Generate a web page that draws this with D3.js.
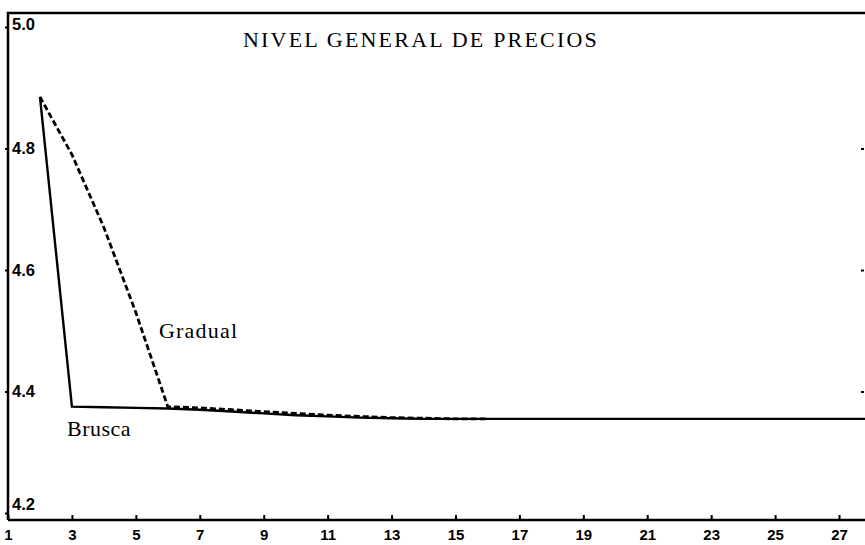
<!DOCTYPE html>
<html>
<head>
<meta charset="utf-8">
<script src="https://cdn.jsdelivr.net/npm/d3@7"></script>
<style>
  body { margin: 0; background: #fff; }
  svg { display: block; }
</style>
</head>
<body>
<div id="viz"></div>
<script>
// periods and the two price paths (log level)
var periods = d3.range(1, 29),
    brusca = [null, 4.885, 4.375, 4.374, 4.373, 4.372, 4.370, 4.367, 4.364, 4.361, 4.359, 4.357, 4.356,
              4.355, 4.355, 4.355, 4.355, 4.355, 4.355, 4.355, 4.355, 4.355, 4.355, 4.355, 4.355, 4.355, 4.355, 4.355],
    gradual = [null, 4.885, 4.79, 4.67, 4.53, 4.375, 4.373, 4.370, 4.367, 4.364, 4.361, 4.359, 4.357,
               4.356, 4.355, 4.355],
    xTicks = d3.range(1, 28, 2),
    yTicks = [4.2, 4.4, 4.6, 4.8, 5.0],
    rightTicks = [4.4, 4.6, 4.8];

var width = 865,
    height = 545,
    frameTop = 13,
    frameBottom = 520,
    frameLeft = 8;

var xScale = d3.scaleLinear()
    .domain([1, 28])
    .range([frameLeft, 871])

var yScale = d3.scaleLinear()
    .domain([4.2, 5.0])
    .range([513, 27])

var svg = d3.select('#viz').append('svg')
    .attr('width', width)
    .attr('height', height)

// frame: top and left lines (right side is cut off)
svg.append('path')
    .attr('d', 'M' + frameLeft + ',' + frameBottom + 'V' + frameTop + 'H' + width)
    .attr('fill', 'none')
    .attr('stroke', '#000')
    .attr('stroke-width', 2.5)

// bottom axis, ticks pointing up
var xAxis = d3.axisBottom(xScale)
    .tickValues(xTicks)
    .tickSize(-5)
    .tickSizeOuter(0)
    .tickPadding(9)
    .tickFormat(d3.format('d'))

var xGuide = svg.append('g')
    .attr('transform', 'translate(0,' + frameBottom + ')')
    .call(xAxis)

xGuide.select('.domain')
    .attr('d', 'M' + frameLeft + ',0H' + width)
    .attr('stroke-width', 2.5)

xGuide.selectAll('.tick line').attr('stroke-width', 2)
xGuide.selectAll('text')
    .attr('font-family', 'Liberation Sans, Arial, sans-serif')
    .attr('font-weight', 'bold')
    .attr('font-size', 15)
    .attr('fill', '#000')

// left axis: labels sit inside the frame
var yAxis = d3.axisLeft(yScale)
    .tickValues(yTicks)
    .tickSize(3)
    .tickSizeOuter(0)
    .tickFormat(d3.format('.1f'))

var yGuide = svg.append('g')
    .attr('transform', 'translate(' + frameLeft + ',0)')
    .call(yAxis)

yGuide.select('.domain').remove()
yGuide.selectAll('.tick line').attr('stroke-width', 2)
yGuide.selectAll('text')
    .attr('x', 4)
    .attr('text-anchor', 'start')
    .attr('font-family', 'Liberation Sans, Arial, sans-serif')
    .attr('font-weight', 'bold')
    .attr('font-size', 16.5)
    .attr('fill', '#000')
    .attr('dy', function(d) {
        return d === 4.2 ? '-0.2em' : (d === 5.0 ? '0.15em' : '0.32em')
    })

// small marks on the right edge
var rightGuide = svg.append('g')
    .attr('transform', 'translate(864,0)')
    .call(d3.axisRight(yScale).tickValues(rightTicks).tickSize(-3).tickFormat(''))

rightGuide.select('.domain').remove()
rightGuide.selectAll('.tick line').attr('stroke-width', 2)

// lines
var line = d3.line()
    .defined(function(d) { return d != null })
    .x(function(d, i) { return xScale(periods[i]) })
    .y(function(d) { return yScale(d) })

svg.append('path')
    .datum(brusca)
    .attr('d', line)
    .attr('fill', 'none')
    .attr('stroke', '#000')
    .attr('stroke-width', 2.4)

svg.append('path')
    .datum(gradual)
    .attr('d', line)
    .attr('fill', 'none')
    .attr('stroke', '#000')
    .attr('stroke-width', 2.8)
    .attr('stroke-dasharray', '6,3')

// title and labels
svg.append('text')
    .attr('x', 421)
    .attr('y', 47)
    .attr('text-anchor', 'middle')
    .attr('font-family', 'Liberation Serif, Times New Roman, serif')
    .attr('font-size', 22)
    .attr('letter-spacing', 2.2)
    .text('NIVEL GENERAL DE PRECIOS')

svg.append('text')
    .attr('x', 159)
    .attr('y', 338)
    .attr('font-family', 'Liberation Serif, Times New Roman, serif')
    .attr('font-size', 22)
    .attr('letter-spacing', 1.2)
    .text('Gradual')

svg.append('text')
    .attr('x', 67)
    .attr('y', 436)
    .attr('font-family', 'Liberation Serif, Times New Roman, serif')
    .attr('font-size', 22)
    .attr('letter-spacing', 0.5)
    .text('Brusca')
</script>
</body>
</html>
